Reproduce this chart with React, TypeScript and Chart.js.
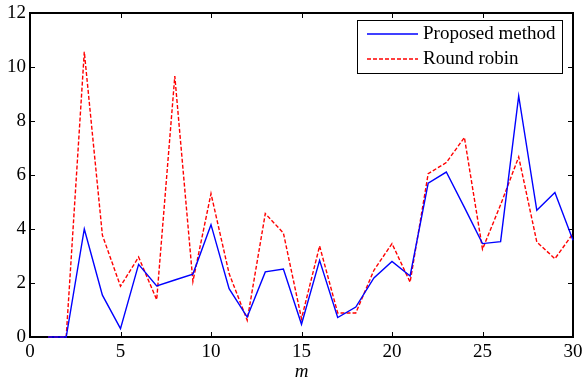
import React, { useEffect, useRef } from "react";
import { Chart, registerables } from "chart.js";

Chart.register(...registerables);

const mValues = [1, 2, 3, 4, 5, 6, 7, 8, 9, 10, 11, 12, 13, 14, 15, 16, 17, 18, 19, 20, 21, 22, 23, 24, 25, 26, 27, 28, 29, 30];
const proposed = [0, 0, 4.0, 1.55, 0.31, 2.69, 1.89, 2.11, 2.33, 4.16, 1.79, 0.74, 2.41, 2.52, 0.47, 2.84, 0.72, 1.11, 2.19, 2.8, 2.26, 5.7, 6.11, 4.8, 3.46, 3.53, 8.93, 4.69, 5.35, 3.58];
const roundRobin = [0, 0, 10.56, 3.77, 1.88, 2.96, 1.38, 9.66, 2.06, 5.31, 2.35, 0.62, 4.57, 3.85, 0.68, 3.37, 0.89, 0.89, 2.47, 3.46, 2.03, 6.05, 6.46, 7.39, 3.25, 4.9, 6.67, 3.52, 2.9, 3.83];
const seriesLabels = ["Proposed method", "Round robin"];
const xTicks = [0, 5, 10, 15, 20, 25, 30];
const yTicks = [0, 2, 4, 6, 8, 10, 12];
const xTitle = "m";

const FONT = "'Liberation Serif', 'Times New Roman', serif";

const framePlugin = {
  id: "frame",
  beforeDatasetsDraw(chart: any) {
    const { ctx, chartArea, scales } = chart;
    const { left, right, top, bottom } = chartArea;
    ctx.save();
    ctx.strokeStyle = "#000";
    ctx.lineWidth = 1;
    const tl = 5;
    ctx.beginPath();
    for (const v of xTicks) {
      const x = Math.round(scales.x.getPixelForValue(v)) + 0.5;
      ctx.moveTo(x, bottom);
      ctx.lineTo(x, bottom - tl);
      ctx.moveTo(x, top);
      ctx.lineTo(x, top + tl);
    }
    for (const v of yTicks) {
      const y = Math.round(scales.y.getPixelForValue(v)) + 0.5;
      ctx.moveTo(left, y);
      ctx.lineTo(left + tl, y);
      ctx.moveTo(right, y);
      ctx.lineTo(right - tl, y);
    }
    ctx.stroke();
    ctx.lineWidth = 2;
    ctx.strokeRect(left, top, right - left, bottom - top);
    ctx.restore();
  },
  afterDatasetsDraw(chart: any) {
    const { ctx } = chart;
    ctx.save();
    const bx = 357, by = 20, bw = 205, bh = 53;
    ctx.fillStyle = "#fff";
    ctx.fillRect(bx, by, bw, bh);
    ctx.lineWidth = 1;
    ctx.strokeStyle = "#000";
    ctx.strokeRect(bx + 0.5, by + 0.5, bw, bh);
    ctx.font = `19px ${FONT}`;
    ctx.textBaseline = "middle";
    ctx.textAlign = "left";
    chart.data.datasets.forEach((ds: any, i: number) => {
      const yy = by + 14 + i * 25;
      ctx.strokeStyle = ds.borderColor;
      ctx.lineWidth = ds.borderWidth;
      ctx.setLineDash(ds.borderDash || []);
      ctx.beginPath();
      ctx.moveTo(367, yy);
      ctx.lineTo(418, yy);
      ctx.stroke();
      ctx.setLineDash([]);
      ctx.fillStyle = "#000";
      ctx.fillText(ds.label, 423, yy);
    });
    ctx.restore();
  },
};

export default function App() {
  const ref = useRef<HTMLCanvasElement>(null);
  useEffect(() => {
    document.body.style.margin = "0";
    const chart = new Chart(ref.current!, {
      type: "line",
      data: {
        labels: mValues,
        datasets: [
          {
            label: seriesLabels[0],
            data: mValues.map((m, i) => ({ x: m, y: proposed[i] })),
            borderColor: "#0000ff",
            borderWidth: 1.4,
            pointRadius: 0,
            tension: 0,
            clip: 4,
          },
          {
            label: seriesLabels[1],
            data: mValues.map((m, i) => ({ x: m, y: roundRobin[i] })),
            borderColor: "#ff0000",
            borderWidth: 1.4,
            borderDash: [4, 2],
            pointRadius: 0,
            tension: 0,
            clip: 4,
          },
        ],
      },
      options: {
        animation: false,
        responsive: false,
        layout: { padding: { top: 13, right: 11, left: 0, bottom: 0 } },
        plugins: { legend: { display: false }, tooltip: { enabled: false } },
        scales: {
          x: {
            type: "linear",
            min: 0,
            max: 30,
            afterBuildTicks: (s: any) => { s.ticks = xTicks.map((v) => ({ value: v })); },
            afterFit: (s: any) => { s.height = 46; s.paddingLeft = 0; s.paddingRight = 0; },
            grid: { display: false, drawTicks: false },
            border: { display: false },
            ticks: { color: "#000", font: { family: FONT, size: 19 }, padding: 4, maxRotation: 0 },
            title: { display: true, text: xTitle, color: "#000", font: { family: FONT, size: 19, style: "italic" }, padding: { top: 0, bottom: 0 } },
          },
          y: {
            min: 0,
            max: 12,
            afterBuildTicks: (s: any) => { s.ticks = yTicks.map((v) => ({ value: v })); },
            afterFit: (s: any) => { s.width = 30; s.paddingTop = 0; s.paddingBottom = 0; },
            grid: { display: false, drawTicks: false },
            border: { display: false },
            ticks: { color: "#000", font: { family: FONT, size: 19 }, padding: 4 },
          },
        },
      },
      plugins: [framePlugin],
    } as any);
    return () => chart.destroy();
  }, []);
  return <canvas ref={ref} width={584} height={383} style={{ display: "block" }} />;
}
